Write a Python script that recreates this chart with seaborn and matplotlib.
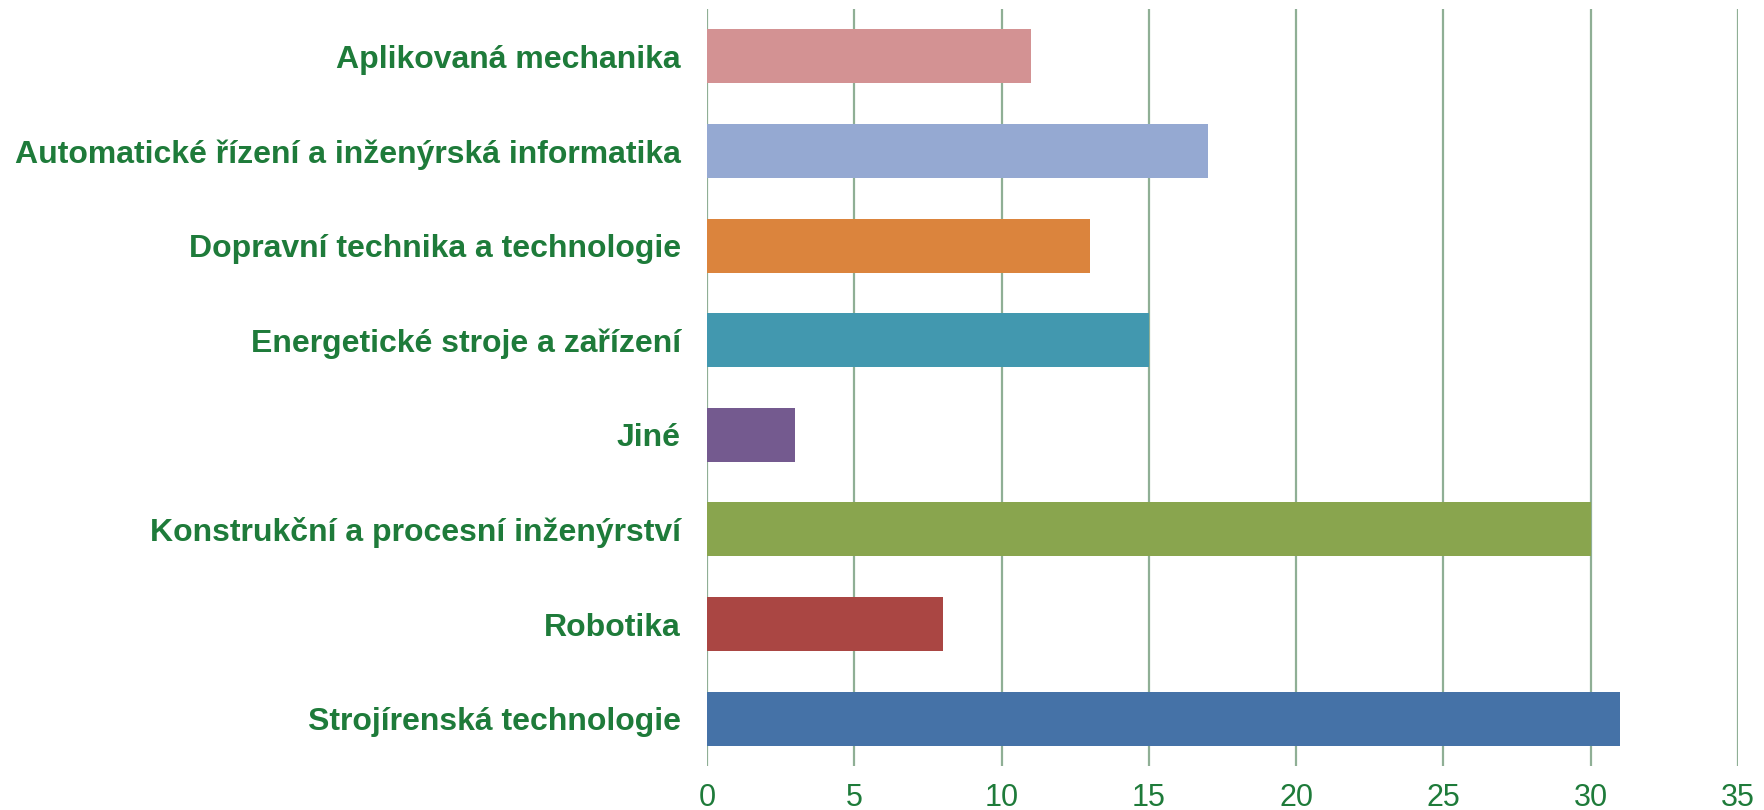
import seaborn as sns
import matplotlib.pyplot as plt
import pandas as pd

# Obory a počty
categories = [
    "Aplikovaná mechanika",
    "Automatické řízení a inženýrská informatika",
    "Dopravní technika a technologie",
    "Energetické stroje a zařízení",
    "Jiné",
    "Konstrukční a procesní inženýrství",
    "Robotika",
    "Strojírenská technologie",
]
counts = [11, 17, 13, 15, 3, 30, 8, 31]
colors = ["#D39293", "#95A9D2", "#DB843D", "#4298AF",
          "#745A8F", "#89A54E", "#AA4643", "#4572A7"]
xticks = [0, 5, 10, 15, 20, 25, 30, 35]

text_green = "#1E7B3A"
grid_color = "#8FAF95"

sns.set_style("white")
plt.rcParams["font.family"] = ["Liberation Sans", "DejaVu Sans"]

df = pd.DataFrame({"obor": categories, "pocet": counts})

fig = plt.figure(figsize=(17.65, 8.1), dpi=100)
ax = fig.add_axes([0.4006, 0.0543, 0.5841, 0.9346])

sns.barplot(data=df, y="obor", x="pocet", hue="obor", palette=colors,
            orient="h", width=0.57, saturation=1, legend=False, ax=ax,
            linewidth=0, edgecolor="none", zorder=3)

ax.set_xlim(0, 35)
ax.set_ylim(7.5, -0.5)
ax.set_xticks(xticks)
ax.set_xticklabels([str(t) for t in xticks])
ax.grid(axis="x", color=grid_color, linewidth=1.6, zorder=0)
ax.grid(axis="y", visible=False)
ax.set_axisbelow(True)
for s in ax.spines.values():
    s.set_visible(False)
ax.tick_params(axis="both", length=0)
ax.tick_params(axis="x", labelsize=22, labelcolor=text_green, pad=12)
ax.tick_params(axis="y", pad=19)
for lbl in ax.get_yticklabels():
    lbl.set_fontsize(23)
    lbl.set_fontweight("bold")
    lbl.set_color(text_green)
ax.set_xlabel("")
ax.set_ylabel("")

fig.savefig("out.png", dpi=100)
